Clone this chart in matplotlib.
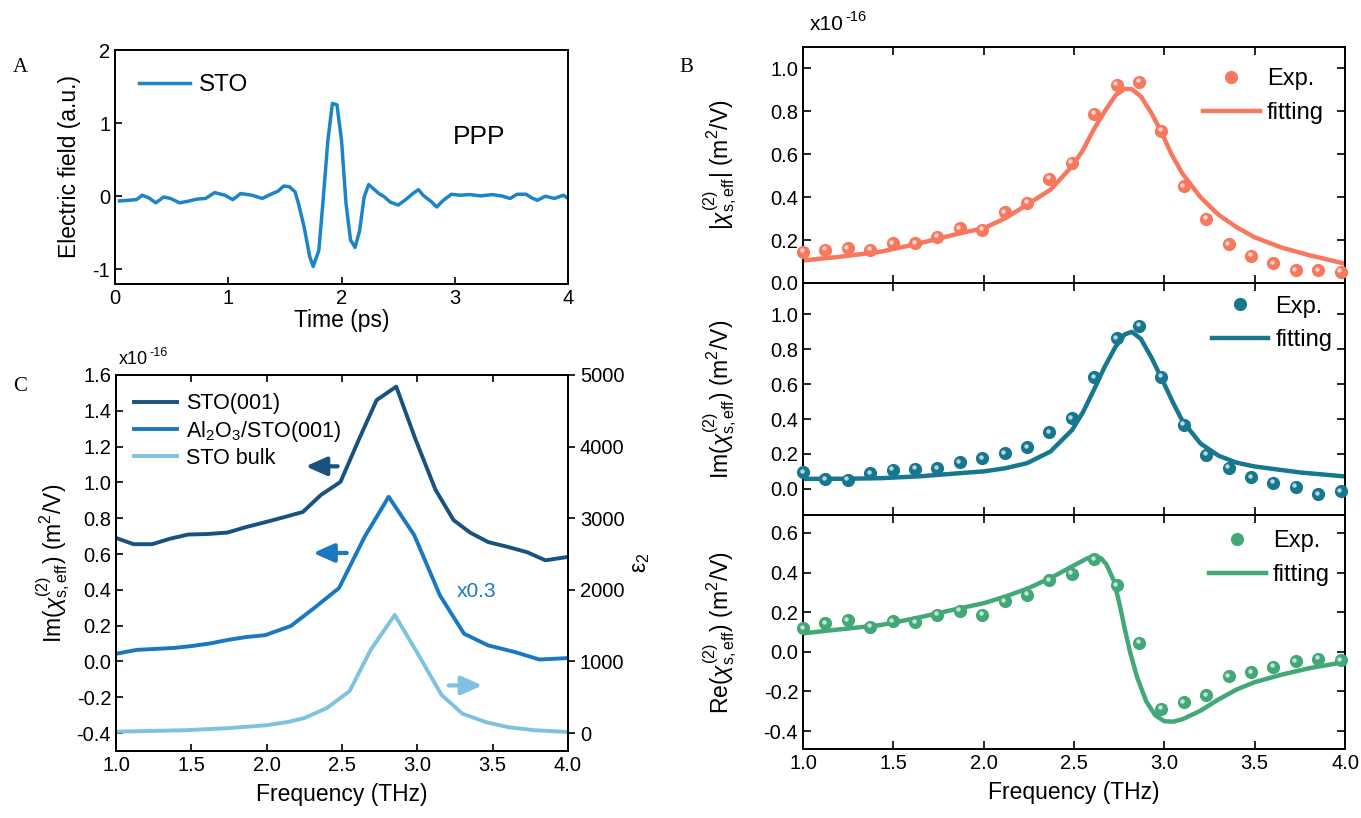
import matplotlib
matplotlib.use("Agg")
import matplotlib.pyplot as plt
from matplotlib.lines import Line2D
from matplotlib.transforms import offset_copy

plt.rcParams['font.family'] = ['Liberation Sans', 'DejaVu Sans']
plt.rcParams['mathtext.fontset'] = 'custom'
plt.rcParams['mathtext.rm'] = 'Liberation Sans'
plt.rcParams['mathtext.it'] = 'Liberation Sans:italic'
plt.rcParams['mathtext.bf'] = 'Liberation Sans:bold'
plt.rcParams['axes.unicode_minus'] = False

# ---------------- Panel A data ----------------
time_ps = [0.04, 0.12, 0.19, 0.24, 0.30, 0.36, 0.43, 0.49, 0.57, 0.64, 0.72, 0.80, 0.88, 0.97,
           1.04, 1.11, 1.21, 1.30, 1.39, 1.44, 1.49, 1.54, 1.59, 1.62, 1.67, 1.72, 1.75, 1.80,
           1.84, 1.88, 1.92, 1.96, 2.00, 2.04, 2.08, 2.12, 2.16, 2.20, 2.24, 2.28, 2.33, 2.38,
           2.43, 2.50, 2.56, 2.63, 2.68, 2.72, 2.79, 2.84, 2.90, 2.97, 3.05, 3.13, 3.23, 3.33,
           3.41, 3.49, 3.55, 3.63, 3.68, 3.73, 3.80, 3.88, 3.96, 4.00]
efield = [-0.064, -0.055, -0.046, 0.014, -0.023, -0.09, -0.01, -0.03, -0.09, -0.07, -0.04, -0.03,
          0.05, 0.014, -0.046, 0.037, 0.014, -0.03, 0.037, 0.07, 0.14, 0.13, 0.06, -0.10, -0.42,
          -0.83, -0.96, -0.74, -0.01, 0.77, 1.27, 1.25, 0.77, -0.10, -0.60, -0.70, -0.47, -0.01,
          0.16, 0.105, 0.037, -0.01, -0.08, -0.12, -0.055, 0.037, 0.09, 0.014, -0.07, -0.146,
          -0.055, 0.027, 0.014, 0.023, 0.005, 0.023, 0.005, -0.03, 0.027, 0.027, -0.023, -0.055,
          0.0, -0.03, 0.014, -0.03]

# ---------------- Panel C data ----------------
freq_sto = [1.0, 1.117, 1.24, 1.36, 1.48, 1.61, 1.74, 1.86, 2.0, 2.12, 2.24, 2.36, 2.49, 2.61,
            2.73, 2.86, 2.99, 3.12, 3.24, 3.35, 3.47, 3.60, 3.73, 3.85, 4.0]
im_sto = [0.69, 0.655, 0.655, 0.686, 0.709, 0.712, 0.72, 0.75, 0.78, 0.807, 0.835, 0.93, 1.003,
          1.236, 1.46, 1.535, 1.236, 0.96, 0.79, 0.72, 0.667, 0.64, 0.61, 0.565, 0.584]
freq_al = [1.0, 1.14, 1.26, 1.39, 1.50, 1.62, 1.74, 1.86, 1.99, 2.16, 2.31, 2.48, 2.65, 2.81,
           2.98, 3.15, 3.31, 3.47, 3.65, 3.81, 4.0]
im_al = [0.043, 0.065, 0.07, 0.076, 0.086, 0.10, 0.12, 0.136, 0.147, 0.198, 0.295, 0.41, 0.696,
         0.92, 0.705, 0.369, 0.155, 0.09, 0.052, 0.011, 0.019]
freq_bulk = [1.0, 1.46, 1.75, 2.0, 2.14, 2.25, 2.40, 2.55, 2.69, 2.85, 3.0, 3.16, 3.30, 3.46,
             3.61, 3.78, 4.0]
eps2_bulk = [20, 40, 70, 110, 155, 210, 350, 585, 1160, 1650, 1120, 535, 270, 150, 80, 40, 15]

# ---------------- Panel B data ----------------
freq_exp = [1.0 + 0.124 * i for i in range(25)]
abs_exp = [0.146, 0.154, 0.161, 0.154, 0.185, 0.185, 0.216, 0.255, 0.248, 0.329, 0.373, 0.486,
           0.561, 0.788, 0.925, 0.937, 0.71, 0.451, 0.299, 0.18, 0.127, 0.091, 0.06, 0.06, 0.052]
im_exp = [0.094, 0.055, 0.052, 0.09, 0.109, 0.115, 0.118, 0.151, 0.176, 0.204, 0.237, 0.324,
          0.405, 0.639, 0.863, 0.935, 0.643, 0.366, 0.195, 0.122, 0.065, 0.036, 0.013, -0.031,
          -0.015]
re_exp = [0.119, 0.144, 0.158, 0.127, 0.153, 0.149, 0.186, 0.207, 0.186, 0.254, 0.288, 0.361,
          0.393, 0.466, 0.336, 0.047, -0.288, -0.254, -0.22, -0.122, -0.102, -0.076, -0.047,
          -0.034, -0.042]

freq_fit_abs = [1.0, 1.2, 1.43, 1.62, 1.87, 2.0, 2.12, 2.24, 2.37, 2.49, 2.55, 2.61, 2.67, 2.73,
                2.78, 2.82, 2.87, 2.93, 2.98, 3.04, 3.1, 3.2, 3.3, 3.4, 3.5, 3.65, 3.8, 4.0]
abs_fit = [0.105, 0.122, 0.146, 0.18, 0.232, 0.255, 0.302, 0.365, 0.435, 0.545, 0.62, 0.717, 0.80,
           0.875, 0.905, 0.903, 0.87, 0.79, 0.71, 0.60, 0.51, 0.40, 0.318, 0.26, 0.213, 0.165,
           0.13, 0.09]
freq_fit_im = [1.0, 1.25, 1.43, 1.65, 1.87, 2.0, 2.12, 2.24, 2.37, 2.49, 2.55, 2.61, 2.67, 2.73,
               2.78, 2.82, 2.87, 2.93, 3.0, 3.05, 3.1, 3.2, 3.3, 3.4, 3.5, 3.75, 4.0]
im_fit = [0.057, 0.058, 0.061, 0.072, 0.09, 0.10, 0.118, 0.147, 0.214, 0.338, 0.44, 0.567, 0.70,
          0.815, 0.885, 0.90, 0.86, 0.75, 0.60, 0.49, 0.39, 0.26, 0.19, 0.15, 0.128, 0.094, 0.071]
freq_fit_re = [1.0, 1.2, 1.43, 1.62, 1.87, 2.0, 2.12, 2.24, 2.37, 2.49, 2.57, 2.61, 2.65, 2.68,
               2.72, 2.75, 2.78, 2.81, 2.85, 2.9, 2.95, 3.0, 3.05, 3.1, 3.2, 3.3, 3.4, 3.5, 3.65,
               3.8, 4.0]
re_fit = [0.093, 0.113, 0.135, 0.169, 0.22, 0.245, 0.279, 0.318, 0.372, 0.431, 0.47, 0.482, 0.472,
          0.44, 0.36, 0.25, 0.12, 0.0, -0.13, -0.25, -0.32, -0.35, -0.352, -0.34, -0.297, -0.24,
          -0.19, -0.153, -0.115, -0.083, -0.051]

W, H = 1361, 818
fig = plt.figure(figsize=(W / 100, H / 100), dpi=100)


def add_ax(l, r, t, b):
    return fig.add_axes([l / W, 1 - b / H, (r - l) / W, (b - t) / H])


TICK = 14.5
LAB = 16.5
SPW = 1.4

c_A = '#1d84c8'
c_sto = '#19527f'
c_al = '#1a78c2'
c_bulk = '#7ec2e2'
c_abs = '#f7785f'
c_im = '#17778f'
c_re = '#43a877'


def sci_label(x, y, size):
    t = fig.text(x / W, 1 - y / H, 'x10', fontsize=size, va='baseline')
    fig.canvas.draw()
    bb = t.get_window_extent()
    fig.text(bb.x1 / W + 0.001, (1 - y / H) + size * 0.45 / 72 / (H / 100), '-16',
             fontsize=size * 0.7, va='baseline')


# ---------------- Panel A ----------------
axA = add_ax(115, 568, 50, 284)
axA.plot(time_ps, efield, color=c_A, lw=2.5, label='STO')
axA.set_xlim(0, 4)
axA.set_ylim(-1.2, 2)
axA.set_xticks([0, 1, 2, 3, 4])
axA.set_yticks([-1, 0, 1, 2])
axA.tick_params(direction='in', labelsize=TICK, length=5, width=1.2, top=False, right=False)
axA.set_xlabel('Time (ps)', fontsize=LAB, labelpad=1)
axA.set_ylabel('Electric field (a.u.)', fontsize=LAB, labelpad=8)
axA.text(2.98, 0.81, 'PPP', fontsize=19, va='center')
axA.legend(loc='upper left', frameon=False, fontsize=17.5, handlelength=2.1,
           borderaxespad=0.6, handletextpad=0.35)
for s in axA.spines.values():
    s.set_linewidth(SPW)
fig.text(20 / W, 1 - 68 / H, 'A', fontsize=15, family='Liberation Serif', va='center', ha='center')

# ---------------- Panel C ----------------
axC = add_ax(116, 568, 375, 751)
axC.plot(freq_sto, im_sto, color=c_sto, lw=2.8, label='STO(001)')
axC.plot(freq_al, im_al, color=c_al, lw=2.8, label=r'Al$_2$O$_3$/STO(001)')
axC.set_xlim(1.0, 4.0)
axC.set_ylim(-0.5, 1.6)
axC.set_xticks([1.0, 1.5, 2.0, 2.5, 3.0, 3.5, 4.0])
axC.set_yticks([-0.4, -0.2, 0.0, 0.2, 0.4, 0.6, 0.8, 1.0, 1.2, 1.4, 1.6])
axC.xaxis.set_major_formatter(plt.FormatStrFormatter('%.1f'))
axC.yaxis.set_major_formatter(plt.FormatStrFormatter('%.1f'))
axC.tick_params(direction='in', labelsize=TICK, length=5, width=1.2, top=True, right=False)
axC.set_xlabel('Frequency (THz)', fontsize=LAB, labelpad=6)
axC.set_ylabel(r'Im($\chi^{(2)}_{\mathrm{s,eff}}$) (m$^2$/V)', fontsize=LAB, labelpad=3)
axC2 = axC.twinx()
axC2.plot(freq_bulk, eps2_bulk, color=c_bulk, lw=2.8, label='STO bulk')
axC2.set_ylim(-250, 5000)
axC2.set_yticks([0, 1000, 2000, 3000, 4000, 5000])
axC2.tick_params(direction='out', labelsize=TICK, length=5, width=1.2)
axC2.set_ylabel('ε$_2$', fontsize=LAB, labelpad=3)
for s in list(axC.spines.values()) + list(axC2.spines.values()):
    s.set_linewidth(SPW)
h1, l1 = axC.get_legend_handles_labels()
h2, l2 = axC2.get_legend_handles_labels()
axC.legend(h1 + h2, l1 + l2, loc='upper left', frameon=False, fontsize=15.5, handlelength=2.0,
           borderaxespad=0.45, handletextpad=0.4, labelspacing=0.2)
arrow_kw = dict(arrowstyle='-|>,head_length=0.9,head_width=0.4', lw=3, mutation_scale=14)
axC.annotate('', xy=(2.24, 1.09), xytext=(2.49, 1.09),
             arrowprops=dict(color=c_sto, **arrow_kw))
axC.annotate('', xy=(2.29, 0.606), xytext=(2.55, 0.606),
             arrowprops=dict(color=c_al, **arrow_kw))
axC.annotate('', xy=(3.45, -0.134), xytext=(3.19, -0.134),
             arrowprops=dict(color=c_bulk, **arrow_kw))
axC.text(3.26, 0.39, 'x0.3', color=c_al, fontsize=15, va='center')
sci_label(119, 364, 13)
fig.text(20 / W, 1 - 387 / H, 'C', fontsize=15, family='Liberation Serif', va='center', ha='center')

# ---------------- Panel B ----------------
axB1 = add_ax(803, 1345, 47, 283)
axB2 = add_ax(803, 1345, 283, 515)
axB3 = add_ax(803, 1345, 515, 749)


def sphere(ax, x, y, color):
    ax.plot(x, y, 'o', ms=9.5, color=color, mec='none', zorder=3, clip_on=False)
    tr = offset_copy(ax.transData, fig=fig, x=-1.5, y=1.5, units='dots')
    ax.plot(x, y, 'o', ms=3.2, color='white', alpha=0.7, mec='none', zorder=4,
            transform=tr, clip_on=False)


panels = [
    (axB1, freq_exp, abs_exp, freq_fit_abs, abs_fit, c_abs, (0.0, 1.1),
     [0.0, 0.2, 0.4, 0.6, 0.8, 1.0],
     r'|$\chi^{(2)}_{\mathrm{s,eff}}$| (m$^2$/V)', 0.5),
    (axB2, freq_exp, im_exp, freq_fit_im, im_fit, c_im, (-0.15, 1.18),
     [0.0, 0.2, 0.4, 0.6, 0.8, 1.0],
     r'Im($\chi^{(2)}_{\mathrm{s,eff}}$) (m$^2$/V)', 0.13),
    (axB3, freq_exp, re_exp, freq_fit_re, re_fit, c_re, (-0.49, 0.69),
     [-0.4, -0.2, 0.0, 0.2, 0.4, 0.6],
     r'Re($\chi^{(2)}_{\mathrm{s,eff}}$) (m$^2$/V)', 0.25),
]
for ax, fx, fy, lx, ly, col, ylim, yt, ylab, bap in panels:
    ax.plot(lx, ly, color=col, lw=3.2, zorder=2, solid_joinstyle='round')
    sphere(ax, fx, fy, col)
    ax.set_xlim(1.0, 4.0)
    ax.set_ylim(*ylim)
    ax.set_yticks(yt)
    ax.set_xticks([1.0, 1.5, 2.0, 2.5, 3.0, 3.5, 4.0])
    ax.xaxis.set_major_formatter(plt.FormatStrFormatter('%.1f'))
    ax.yaxis.set_major_formatter(plt.FormatStrFormatter('%.1f'))
    ax.tick_params(direction='in', labelsize=TICK, length=6, width=1.2, top=True, right=True)
    ax.set_ylabel(ylab, fontsize=LAB)
    for s in ax.spines.values():
        s.set_linewidth(SPW)
    handles = [Line2D([], [], marker='o', ls='none', ms=9.5, color=col, mec='none'),
               Line2D([], [], color=col, lw=3.2)]
    ax.legend(handles, ['Exp.', 'fitting'], loc='upper right', frameon=False, fontsize=17,
              handlelength=2.4, handletextpad=0.3, labelspacing=0.5, borderaxespad=bap)
    if ax is not axB3:
        ax.tick_params(labelbottom=False)
    ax.yaxis.set_label_coords(-0.118, 0.5)
axB3.set_xlabel('Frequency (THz)', fontsize=LAB, labelpad=6)
sci_label(810, 30, 15)
fig.text(686 / W, 1 - 67 / H, 'B', fontsize=15, family='Liberation Serif', va='center', ha='center')

fig.savefig('out.png', dpi=100)
